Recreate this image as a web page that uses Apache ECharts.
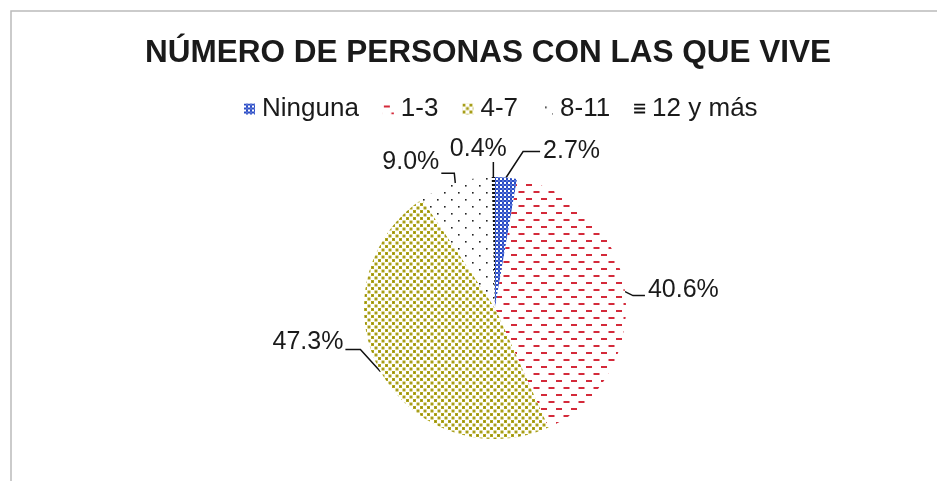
<!DOCTYPE html>
<html>
<head>
<meta charset="utf-8">
<script src="https://cdn.jsdelivr.net/npm/echarts@6/dist/echarts.min.js"></script>
<style>html,body{margin:0;padding:0;background:#fff;}#c{width:937px;height:482px;}</style>
</head>
<body>
<div id="c"></div>
<script>
const titleText = 'NÚMERO DE PERSONAS CON LAS QUE VIVE';
const categories = ['Ninguna', '1-3', '4-7', '8-11', '12 y más'];
const values = [2.7, 40.6, 47.3, 9.0, 0.4];

function pattern(w, h, draw) {
  const c = document.createElement('canvas');
  c.width = w; c.height = h;
  const g = c.getContext('2d');
  g.fillStyle = '#fff';
  g.fillRect(0, 0, w, h);
  draw(g);
  return { image: c, repeat: 'repeat' };
}
const fills = [
  pattern(4, 4, g => { g.fillStyle = '#2a4cc4'; g.fillRect(0, 0, 2, 2); g.fillRect(2, 2, 2, 2); g.fillStyle = '#5a74d8'; g.fillRect(2, 0, 2, 2); }),
  pattern(15, 14, g => { g.fillStyle = '#d42a3a'; g.fillRect(1, 2, 6, 2); g.fillRect(8.5, 9, 6, 2); }),
  pattern(7, 7, g => { g.fillStyle = '#b0a61c'; g.fillRect(0, 0, 3, 3); g.fillRect(3.5, 3.5, 3, 3); g.fillStyle = '#8a8214'; g.fillRect(1, 1, 1, 1); g.fillRect(4.5, 4.5, 1, 1); }),
  pattern(14, 14, g => { g.fillStyle = '#222'; g.fillRect(3, 3, 1.6, 1.6); g.fillRect(10, 10, 1.6, 1.6); }),
  pattern(4, 4, g => { g.fillStyle = '#111'; g.fillRect(0, 0, 4, 2); })
];

// leader-line shapes relative to the slice edge point given by the library:
// [bend dx, bend dy, end dx, end dy, label dx, label dy, align, verticalAlign]
const leaderShapes = [
  [17, -26, 34, -26, 37, -26, 'left', 'middle'],
  [8, 4, 20, 4, 23, -1, 'left', 'middle'],
  [-20, -22, -35, -22, -37, -29, 'right', 'middle'],
  [-1, -10, -14, -10, -16, -21, 'right', 'middle'],
  [0, -9, 0, -15, -15, -15, 'center', 'bottom']
];

const chart = echarts.init(document.getElementById('c'), null, { renderer: 'canvas' });
chart.setOption({
  backgroundColor: '#fff',
  animation: false,
  title: {
    text: titleText,
    left: 483, top: 32, textAlign: 'center',
    textStyle: { fontFamily: 'Liberation Sans', fontWeight: 'bold', fontSize: 31.5, color: '#1a1a1a' }
  },
  legend: {
    data: categories,
    top: 91, left: 239,
    itemWidth: 11, itemHeight: 11, itemGap: 24,
    icon: 'rect',
    textStyle: { fontFamily: 'Liberation Sans', fontSize: 26, color: '#1a1a1a', padding: [0, 0, 0, 2] }
  },
  graphic: [
    { type: 'polyline', shape: { points: [[11, 481], [11, 11], [937, 11]] }, style: { stroke: '#bbb', lineWidth: 1.5, fill: null } }
  ],
  series: [{
    type: 'pie',
    center: [495, 308],
    radius: 131,
    startAngle: 90,
    clockwise: true,
    avoidLabelOverlap: false,
    itemStyle: { borderWidth: 0 },
    label: {
      formatter: p => p.value.toFixed(1) + '%',
      fontFamily: 'Liberation Sans', fontSize: 25, color: '#1a1a1a'
    },
    labelLine: { length: 10, length2: 12, lineStyle: { color: '#111', width: 1.5 } },
    labelLayout: function (params) {
      const s = leaderShapes[params.dataIndex];
      const p0 = params.labelLinePoints ? params.labelLinePoints[0] : null;
      if (!p0) return {};
      return {
        x: p0[0] + s[4], y: p0[1] + s[5], align: s[6], verticalAlign: s[7],
        labelLinePoints: [[p0[0], p0[1]], [p0[0] + s[0], p0[1] + s[1]], [p0[0] + s[2], p0[1] + s[3]]]
      };
    },
    data: categories.map((n, i) => ({ name: n, value: values[i], itemStyle: { color: fills[i] } }))
  }]
});
</script>
</body>
</html>
